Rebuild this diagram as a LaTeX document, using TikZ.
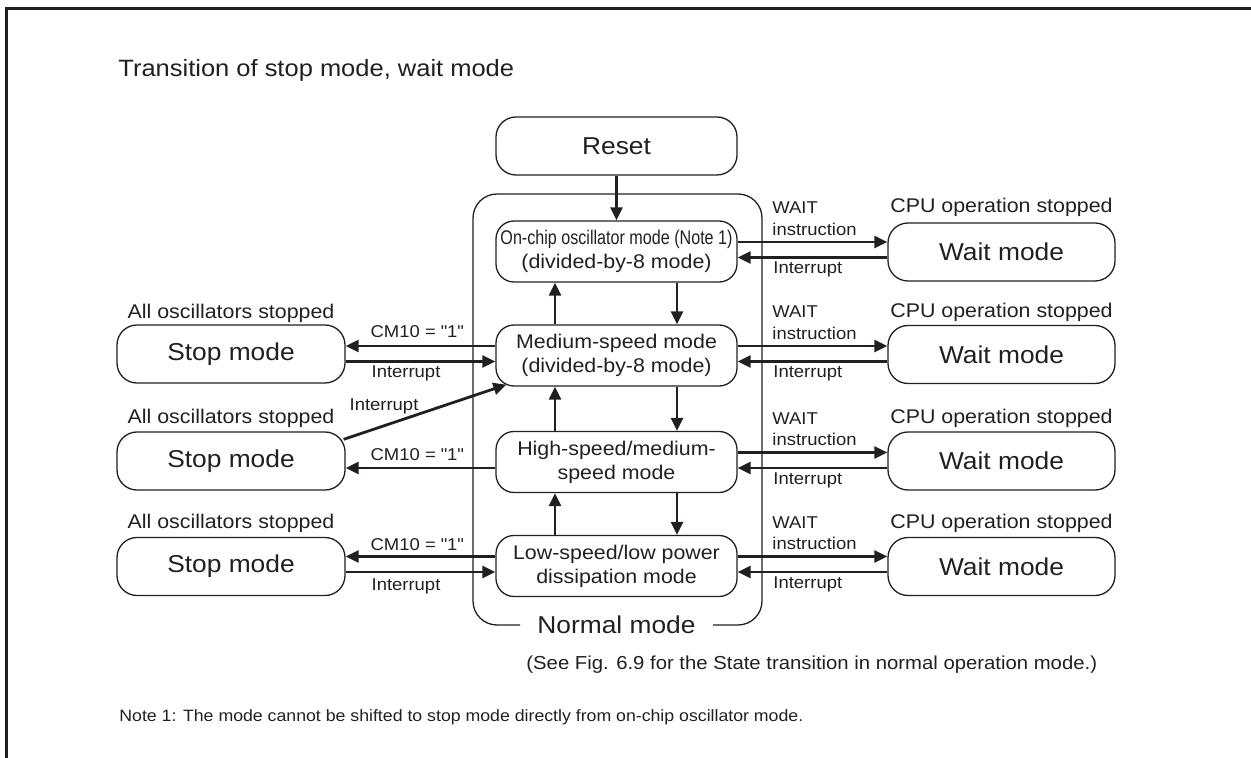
\documentclass[tikz,border=0pt]{standalone}
\usepackage{fontspec}
\setmainfont{Liberation Sans}[FakeStretch=1.08]
\usepackage{graphicx}
\usetikzlibrary{arrows.meta}
\definecolor{ink}{HTML}{231F20}
\begin{document}
\begin{tikzpicture}[x=0.5pt,y=-0.5pt,
  every node/.style={text=ink, inner sep=0pt},
  bigfont/.style={font=\fontsize{12.2pt}{14.5pt}\selectfont},
  midfont/.style={font=\fontsize{9.9pt}{12pt}\selectfont},
  smallfont/.style={font=\fontsize{8.55pt}{10pt}\selectfont},
  boxbase/.style={draw=ink, line width=0.65pt, align=center, rounded corners=10pt},
  resetbox/.style={boxbase, bigfont, minimum width=120.5pt, minimum height=29pt},
  modebox/.style={boxbase, midfont, minimum width=120.5pt, minimum height=30.5pt, rounded corners=9pt},
  stopbox/.style={boxbase, bigfont, minimum width=114pt, minimum height=29pt},
  waitbox/.style={boxbase, bigfont, minimum width=113.5pt, minimum height=29pt},
  hdr/.style={midfont},
  lbl/.style={smallfont},
  arr/.style={draw=ink, line width=1.4pt, -{Triangle[length=6.5pt,width=6pt]}}
]
\useasboundingbox (0,0) rectangle (1251,758);
% frame
\draw[ink, line width=1.5pt] (6,760) -- (6,9) -- (1253,9);

% title and notes
\node[anchor=west, font=\fontsize{11.8pt}{14pt}\selectfont] (title) at (118,70) {Transition of stop mode, wait mode};
\node[anchor=west, font=\fontsize{9.4pt}{11pt}\selectfont] (see) at (526,665) {(See Fig. 6.9 for the State transition in normal operation mode.)};
\node[anchor=west, font=\fontsize{8.2pt}{10pt}\selectfont] (note) at (119,717) {Note 1: The mode cannot be shifted to stop mode directly from on-chip oscillator mode.};

% normal mode enclosure
\draw[ink, line width=0.65pt, rounded corners=12pt] (520,625) -- (473,625) -- (473,194) -- (762,194) -- (762,625) -- (713,625);
\node[bigfont] (normal) at (616.5,625) {Normal mode};

% central column
\node[resetbox] (reset) at (616.5,146) {Reset};
\node[modebox] (onchip) at (616.5,251.5) {\scalebox{0.754}[1]{On-chip oscillator mode (Note 1)}\\(divided-by-8 mode)};
\node[modebox] (medium) at (616.5,355.5) {Medium-speed mode\\(divided-by-8 mode)};
\node[modebox] (high) at (616.5,462) {High-speed/medium-\\speed mode};
\node[modebox] (low) at (616.5,566) {Low-speed/low power\\dissipation mode};

% stop modes
\node[stopbox] (stop1) at (231,354) {Stop mode};
\node[stopbox] (stop2) at (231,461) {Stop mode};
\node[stopbox] (stop3) at (231,566.5) {Stop mode};
\node[hdr] (aos1) at (231,313) {All oscillators stopped};
\node[hdr] (aos2) at (231,418) {All oscillators stopped};
\node[hdr] (aos3) at (231,523) {All oscillators stopped};

% wait modes
\node[waitbox] (wait1) at (1001.5,252) {Wait mode};
\node[waitbox] (wait2) at (1001.5,354.5) {Wait mode};
\node[waitbox] (wait3) at (1001.5,461) {Wait mode};
\node[waitbox] (wait4) at (1001.5,566.5) {Wait mode};
\foreach \y/\i in {207/1,312/2,418/3,523/4}
  \node[hdr] (cpu\i) at (1001.5,\y) {CPU operation stopped};

% vertical arrows
\coordinate (ux) at (555,0);
\coordinate (dx) at (677,0);
\draw[arr] (reset.south) -- (onchip.north);
\foreach \a/\b in {onchip/medium, medium/high, high/low} {
  \draw[arr] (\b.north -| ux) -- (\a.south -| ux);
  \draw[arr] (\a.south -| dx) -- (\b.north -| dx);
}

% right side arrows and labels
\foreach \m/\w/\i in {onchip/wait1/1, medium/wait2/2, high/wait3/3, low/wait4/4} {
  \draw[arr] ([yshift=4.75pt]\m.east) -- ([yshift=4.75pt]\m.east -| \w.west);
  \draw[arr] ([yshift=-3pt]\m.east -| \w.west) -- ([yshift=-3pt]\m.east);
}
\foreach \c/\i in {251.5/1, 355.5/2, 462/3, 566/4} {
  \node[lbl, anchor=west] (wa\i) at (772,\c-43.5) {WAIT};
  \node[lbl, anchor=west] (wi\i) at (772,\c-22.5) {instruction};
  \node[lbl, anchor=west] (wr\i) at (773,\c+18) {Interrupt};
}

% left side arrows
\draw[arr] ([yshift=4.75pt]medium.west) -- ([yshift=4.75pt]medium.west -| stop1.east);
\draw[arr] ([yshift=-3pt]medium.west -| stop1.east) -- ([yshift=-3pt]medium.west);
\draw[arr] ([yshift=-3pt]high.west) -- ([yshift=-3pt]high.west -| stop2.east);
\draw[arr] ([xshift=-1pt,yshift=-4pt]stop2.north east) -- ([xshift=5.5pt,yshift=1pt]medium.south west);
\draw[arr] ([yshift=4.75pt]low.west) -- ([yshift=4.75pt]low.west -| stop3.east);
\draw[arr] ([yshift=-3pt]low.west -| stop3.east) -- ([yshift=-3pt]low.west);

\node[lbl] (cm1) at (417,332) {CM10 = \textquotedbl 1\textquotedbl};
\node[lbl] (ir1) at (406,373) {Interrupt};
\node[lbl] (ird) at (384,406) {Interrupt};
\node[lbl] (cm2) at (417,455) {CM10 = \textquotedbl 1\textquotedbl};
\node[lbl] (cm3) at (417,545) {CM10 = \textquotedbl 1\textquotedbl};
\node[lbl] (ir3) at (406,586) {Interrupt};
\end{tikzpicture}
\end{document}
